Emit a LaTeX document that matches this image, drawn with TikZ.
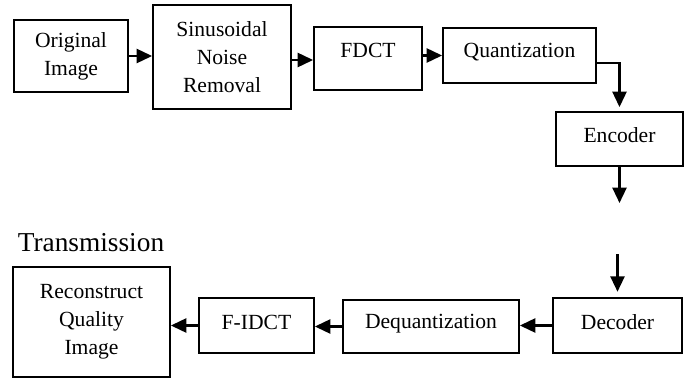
\documentclass[tikz,border=0pt]{standalone}
\usepackage{fontspec}
\setmainfont{Liberation Serif}
\usetikzlibrary{arrows.meta}
\begin{document}
\begin{tikzpicture}[x=0.75pt,y=-0.75pt,
  box/.style={draw, line width=1.4pt, inner sep=0pt, align=center,
    font=\fontsize{16.2}{21}\selectfont},
  lbl/.style={inner sep=0pt, font=\fontsize{16.2}{21}\selectfont},
  arr/.style={line width=1.7pt, -{Triangle[length=11.5pt,width=10.5pt]}}]
\useasboundingbox (0,0) rectangle (692,378);
% top row
\node[box, minimum width=114*0.75pt, minimum height=72*0.75pt] (orig) at (71,56) {Original\\Image};
\node[box, minimum width=138*0.75pt, minimum height=104*0.75pt] (sin) at (222,57) {Sinusoidal\\Noise\\Removal};
\node[box, minimum width=108*0.75pt, minimum height=63*0.75pt] (fdct) at (368,58.5) {};
\node[lbl] (fdcttext) at (368,50) {FDCT};
\node[box, minimum width=153*0.75pt, minimum height=55*0.75pt] (quant) at (519.5,55.5) {};
\node[lbl] (quanttext) at (519.5,52) {Quantization};
\node[box, minimum width=127*0.75pt, minimum height=54*0.75pt] (enc) at (619.5,139) {};
\node[lbl] (enctext) at (619.5,135) {Encoder};
% bottom row
\node[box, minimum width=129*0.75pt, minimum height=55*0.75pt] (dec) at (617.5,325.5) {};
\node[lbl] (dectext) at (617.5,322) {Decoder};
\node[box, minimum width=176*0.75pt, minimum height=53*0.75pt] (deq) at (431,326.5) {};
\node[lbl] (deqtext) at (431,324) {Dequantization};
\node[box, minimum width=115*0.75pt, minimum height=55*0.75pt] (fidct) at (256.5,325.5) {};
\node[lbl] (fidcttext) at (256.5,322) {F-IDCT};
\node[box, minimum width=157*0.75pt, minimum height=110*0.75pt] (recon) at (91.5,322) {Reconstruct\\Quality\\Image};
\node[inner sep=0pt, font=\fontsize{20.5}{25}\selectfont] (trans) at (91,243) {Transmission};
% free ends
\coordinate (encout) at (619.5,203);
\coordinate (decin) at (617.5,254);
% connectors
\draw[arr] (orig.east) -- (orig.east -| sin.west);
\draw[arr] (sin.east |- 0,60) -- (fdct.west |- 0,60);
\draw[arr] (quant.west -| fdct.east) -- (quant.west);
\draw[arr, shorten >=3pt] (quant.east |- 0,63) -| (enc.north);
\draw[arr] (enc.south) -- (encout);
\draw[arr, shorten >=4pt] (decin) -- (dec.north);
\draw[arr] (dec.west) -- (dec.west -| deq.east);
\draw[arr] (deq.west) -- (deq.west -| fidct.east);
\draw[arr] (fidct.west) -- (fidct.west -| recon.east);
\end{tikzpicture}
\end{document}
